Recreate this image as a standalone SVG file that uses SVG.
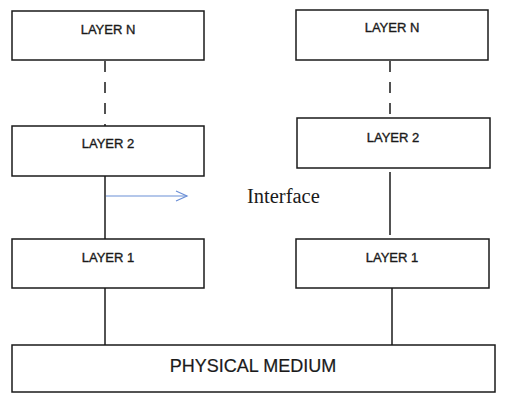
<svg xmlns="http://www.w3.org/2000/svg" width="514" height="410" viewBox="0 0 514 410">
<style>
.box{fill:#fff;stroke:#1a1a1a;stroke-width:1.5}
.lbl{font-family:"Liberation Sans",Arial,sans-serif;font-size:13px;fill:#1a1a1a;stroke:#1a1a1a;stroke-width:0.35;text-anchor:middle}
.big{font-size:18px;stroke-width:0.2}
.ln{stroke:#1a1a1a;stroke-width:1.5;fill:none}
.dash{stroke-dasharray:11 10}
.arr{stroke:#6b8fd6;stroke-width:1.2;fill:none}
.ifc{font-family:"Liberation Serif","Times New Roman",serif;font-size:20.5px;fill:#1a1a1a}
</style>
<rect width="514" height="410" fill="#fff"/>
<g id="connectors">
<line class="ln dash" x1="105" y1="61" x2="105" y2="126"/>
<line class="ln" x1="105" y1="176" x2="105" y2="239"/>
<line class="ln" x1="105" y1="288" x2="105" y2="345"/>
<line class="ln dash" x1="390" y1="61" x2="390" y2="118"/>
<line class="ln" x1="390" y1="172" x2="390" y2="235"/>
<line class="ln" x1="392" y1="288" x2="392" y2="345"/>
<line class="arr" x1="106" y1="196" x2="187" y2="196"/>
<polyline class="arr" points="176,191 187,196 176,201"/>
</g>
<g id="left-layer-n"><rect class="box" x="12" y="11" width="192" height="49"/><text class="lbl" x="108" y="34">LAYER N</text></g>
<g id="left-layer-2"><rect class="box" x="12" y="126" width="192" height="50"/><text class="lbl" x="108" y="148">LAYER 2</text></g>
<g id="left-layer-1"><rect class="box" x="12" y="239" width="192" height="49"/><text class="lbl" x="108" y="262">LAYER 1</text></g>
<g id="right-layer-n"><rect class="box" x="296" y="10" width="192" height="50"/><text class="lbl" x="392" y="32">LAYER N</text></g>
<g id="right-layer-2"><rect class="box" x="297" y="118" width="193" height="50"/><text class="lbl" x="393" y="142">LAYER 2</text></g>
<g id="right-layer-1"><rect class="box" x="296" y="239" width="193" height="49"/><text class="lbl" x="392" y="262">LAYER 1</text></g>
<g id="physical-medium"><rect class="box" x="12" y="345" width="483" height="47"/><text class="lbl big" x="253" y="372">PHYSICAL MEDIUM</text></g>
<text class="ifc" x="247" y="203">Interface</text>
</svg>
